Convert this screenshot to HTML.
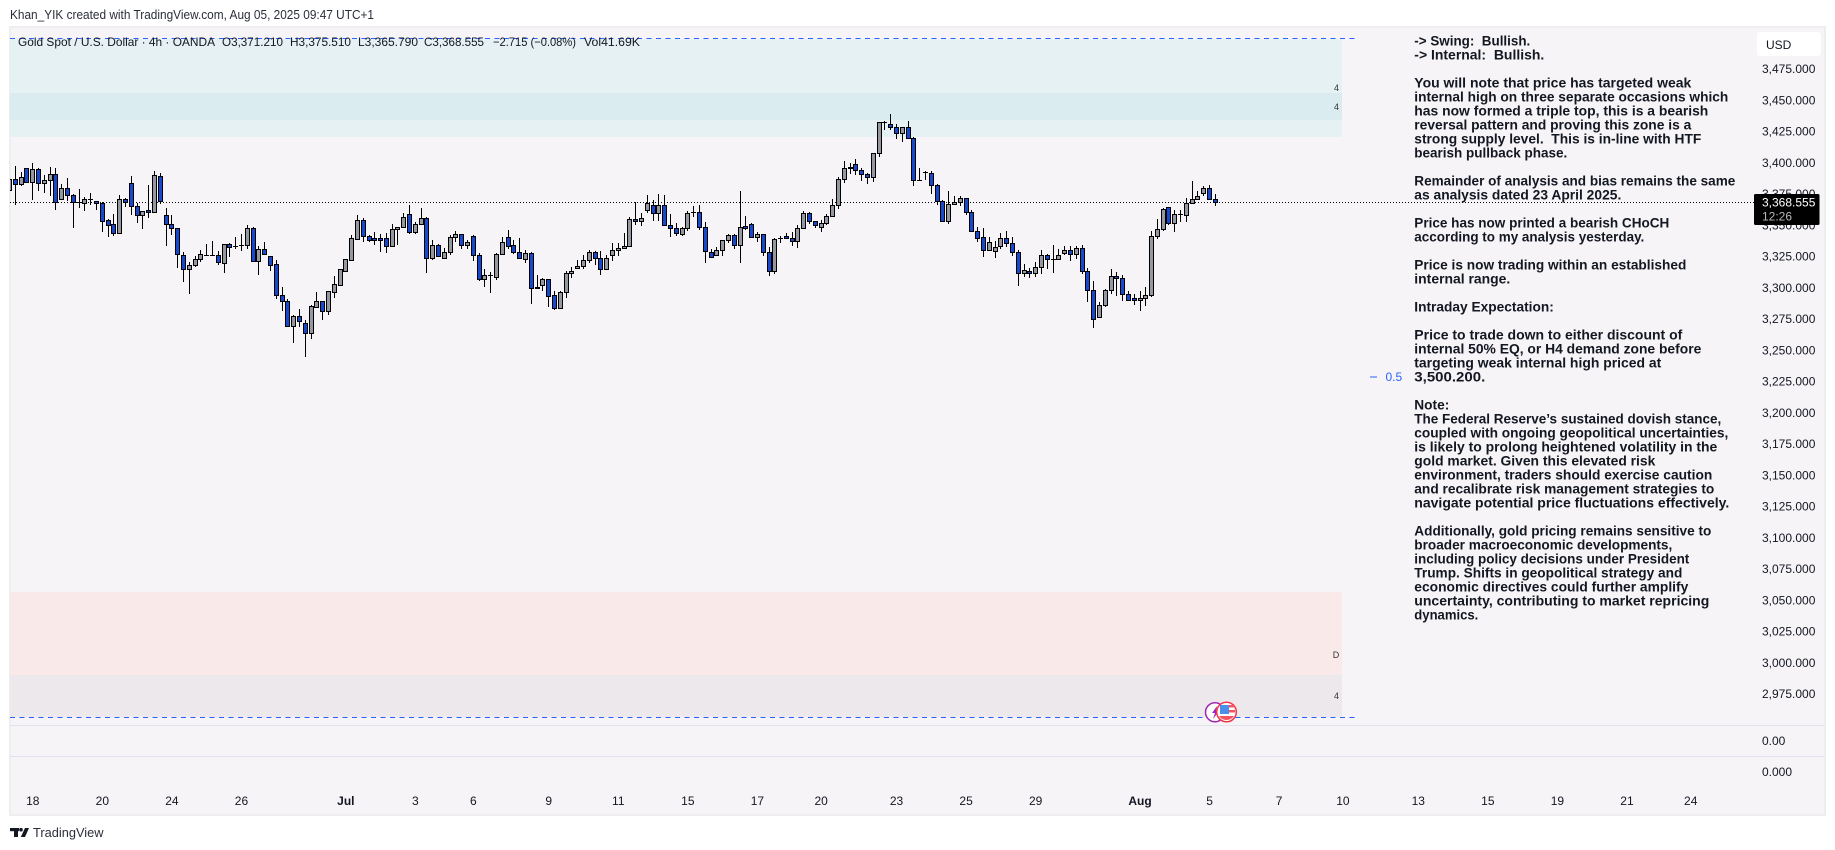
<!DOCTYPE html>
<html lang="en">
<head>
<meta charset="utf-8">
<title>Gold Spot / U.S. Dollar 4h chart</title>
<style>
html,body{margin:0;padding:0;background:#fff;width:1835px;height:850px;overflow:hidden}
svg{display:block;font-family:"Liberation Sans",Arial,sans-serif}
.note{font-size:14px;font-weight:bold;fill:#131722}
.axis{font-size:12px;fill:#131722}
.legend{font-size:12px;fill:#131722}
</style>
</head>
<body>
<svg id="chart" xmlns="http://www.w3.org/2000/svg" width="1835" height="850" viewBox="0 0 1835 850">
  <rect x="0" y="0" width="1835" height="850" fill="#ffffff"/>
  <text x="10" y="19" font-size="12.5" fill="#2a2e39" textLength="364" lengthAdjust="spacingAndGlyphs">Khan_YIK created with TradingView.com, Aug 05, 2025 09:47 UTC+1</text>
  <rect x="10" y="27" width="1815" height="788" fill="#f6f4f6" stroke="#eeeef0" stroke-width="2"/>
  <g id="zones"></g>
  <line x1="10" y1="725.5" x2="1825" y2="725.5" stroke="#e2e2ec" stroke-width="1"/>
  <line x1="10" y1="756.5" x2="1825" y2="756.5" stroke="#e0e3ee" stroke-width="1"/>
  <g id="levels"></g>
  <g id="candles" clip-path="url(#plotClip)"></g>
  <defs><clipPath id="plotClip"><rect x="10" y="27" width="1740" height="690"/></clipPath></defs>

  <g font-size="9" fill="#333" text-anchor="middle">
    <text x="1336.5" y="91">4</text>
    <text x="1336.5" y="110">4</text>
    <text x="1336" y="658">D</text>
    <text x="1336.5" y="699">4</text>
  </g>

  <g>
    <line x1="1370" y1="377" x2="1377" y2="377" stroke="#2962ff" stroke-width="1"/>
    <text x="1385.5" y="381" font-size="12" fill="#2962ff">0.5</text>
  </g>

  <g class="note">
    <text class="note" x="1414.3" y="45.7" textLength="116" lengthAdjust="spacingAndGlyphs" xml:space="preserve">-&gt; Swing:  Bullish.</text>
    <text class="note" x="1414.3" y="59.7" textLength="130" lengthAdjust="spacingAndGlyphs" xml:space="preserve">-&gt; Internal:  Bullish.</text>
    <text class="note" x="1414.3" y="87.7" textLength="277" lengthAdjust="spacingAndGlyphs">You will note that price has targeted weak</text>
    <text class="note" x="1414.3" y="101.7" textLength="314" lengthAdjust="spacingAndGlyphs">internal high on three separate occasions which</text>
    <text class="note" x="1414.3" y="115.7" textLength="294" lengthAdjust="spacingAndGlyphs">has now formed a triple top, this is a bearish</text>
    <text class="note" x="1414.3" y="129.7" textLength="277" lengthAdjust="spacingAndGlyphs">reversal pattern and proving this zone is a</text>
    <text class="note" x="1414.3" y="143.7" textLength="287" lengthAdjust="spacingAndGlyphs" xml:space="preserve">strong supply level.  This is in-line with HTF</text>
    <text class="note" x="1414.3" y="157.7" textLength="153" lengthAdjust="spacingAndGlyphs">bearish pullback phase.</text>
    <text class="note" x="1414.3" y="185.7" textLength="321" lengthAdjust="spacingAndGlyphs">Remainder of analysis and bias remains the same</text>
    <text class="note" x="1414.3" y="199.7" textLength="207" lengthAdjust="spacingAndGlyphs">as analysis dated 23 April 2025.</text>
    <text class="note" x="1414.3" y="227.7" textLength="255" lengthAdjust="spacingAndGlyphs">Price has now printed a bearish CHoCH</text>
    <text class="note" x="1414.3" y="241.7" textLength="230" lengthAdjust="spacingAndGlyphs">according to my analysis yesterday.</text>
    <text class="note" x="1414.3" y="269.7" textLength="272" lengthAdjust="spacingAndGlyphs">Price is now trading within an established</text>
    <text class="note" x="1414.3" y="283.7" textLength="96" lengthAdjust="spacingAndGlyphs">internal range.</text>
    <text class="note" x="1414.3" y="311.7" textLength="139.5" lengthAdjust="spacingAndGlyphs">Intraday Expectation:</text>
    <text class="note" x="1414.3" y="339.7" textLength="268" lengthAdjust="spacingAndGlyphs">Price to trade down to either discount of</text>
    <text class="note" x="1414.3" y="353.7" textLength="287" lengthAdjust="spacingAndGlyphs">internal 50% EQ, or H4 demand zone before</text>
    <text class="note" x="1414.3" y="367.7" textLength="247" lengthAdjust="spacingAndGlyphs">targeting weak internal high priced at</text>
    <text class="note" x="1414.3" y="381.7" textLength="71" lengthAdjust="spacingAndGlyphs">3,500.200.</text>
    <text class="note" x="1414.3" y="409.7" textLength="35" lengthAdjust="spacingAndGlyphs">Note:</text>
    <text class="note" x="1414.3" y="423.7" textLength="307" lengthAdjust="spacingAndGlyphs">The Federal Reserve’s sustained dovish stance,</text>
    <text class="note" x="1414.3" y="437.7" textLength="314" lengthAdjust="spacingAndGlyphs">coupled with ongoing geopolitical uncertainties,</text>
    <text class="note" x="1414.3" y="451.7" textLength="303" lengthAdjust="spacingAndGlyphs">is likely to prolong heightened volatility in the</text>
    <text class="note" x="1414.3" y="465.7" textLength="241" lengthAdjust="spacingAndGlyphs">gold market. Given this elevated risk</text>
    <text class="note" x="1414.3" y="479.7" textLength="298" lengthAdjust="spacingAndGlyphs">environment, traders should exercise caution</text>
    <text class="note" x="1414.3" y="493.7" textLength="300" lengthAdjust="spacingAndGlyphs">and recalibrate risk management strategies to</text>
    <text class="note" x="1414.3" y="507.7" textLength="315" lengthAdjust="spacingAndGlyphs">navigate potential price fluctuations effectively.</text>
    <text class="note" x="1414.3" y="535.7" textLength="297" lengthAdjust="spacingAndGlyphs">Additionally, gold pricing remains sensitive to</text>
    <text class="note" x="1414.3" y="549.7" textLength="258" lengthAdjust="spacingAndGlyphs">broader macroeconomic developments,</text>
    <text class="note" x="1414.3" y="563.7" textLength="275" lengthAdjust="spacingAndGlyphs">including policy decisions under President</text>
    <text class="note" x="1414.3" y="577.7" textLength="268" lengthAdjust="spacingAndGlyphs">Trump. Shifts in geopolitical strategy and</text>
    <text class="note" x="1414.3" y="591.7" textLength="274" lengthAdjust="spacingAndGlyphs">economic directives could further amplify</text>
    <text class="note" x="1414.3" y="605.7" textLength="295" lengthAdjust="spacingAndGlyphs">uncertainty, contributing to market repricing</text>
    <text class="note" x="1414.3" y="619.7" textLength="64" lengthAdjust="spacingAndGlyphs">dynamics.</text>
  </g>

  <g id="priceAxis"></g>
  <g id="timeAxis"></g>

  <text class="axis" x="1762" y="745">0.00</text>
  <text class="axis" x="1762" y="776">0.000</text>

  <g>
    <rect x="1757" y="32" width="64" height="24" rx="3" fill="#ffffff"/>
    <text class="axis" x="1766" y="49">USD</text>
  </g>

  <g>
    <rect x="1754" y="194" width="65.5" height="31" rx="1.5" fill="#000000"/>
    <text x="1762" y="206.5" font-size="12" fill="#ffffff">3,368.555</text>
    <text x="1762" y="220.5" font-size="12" fill="#b8b8b8">12:26</text>
  </g>

  <g>
    <text class="legend" x="18" y="46" textLength="197" lengthAdjust="spacingAndGlyphs">Gold Spot / U.S. Dollar · 4h · OANDA</text>
    <text class="legend" x="222" y="46" textLength="61" lengthAdjust="spacingAndGlyphs">O3,371.210</text>
    <text class="legend" x="290" y="46" textLength="61" lengthAdjust="spacingAndGlyphs">H3,375.510</text>
    <text class="legend" x="358" y="46" textLength="60" lengthAdjust="spacingAndGlyphs">L3,365.790</text>
    <text class="legend" x="424" y="46" textLength="60" lengthAdjust="spacingAndGlyphs">C3,368.555</text>
    <text class="legend" x="493" y="46" textLength="83" lengthAdjust="spacingAndGlyphs">−2.715 (−0.08%)</text>
    <text class="legend" x="584" y="46" textLength="56" lengthAdjust="spacingAndGlyphs">Vol41.69K</text>
  </g>

  <g>
    <circle cx="1215" cy="712.3" r="9.5" fill="#ffffff" stroke="#9c27b0" stroke-width="1.5"/>
    <polygon points="1217,706 1212,713 1215,713 1213,719 1219,711 1216,711" fill="#9c27b0"/>
  </g>
  <g>
    <circle cx="1226.5" cy="712" r="9.8" fill="#ffffff" stroke="#f23645" stroke-width="1.5"/>
    <rect x="1228" y="705" width="7" height="2.5" fill="#f7525f"/>
    <rect x="1228" y="710" width="7" height="2.5" fill="#f7525f"/>
    <rect x="1220" y="705" width="9" height="9" fill="#4a90e8"/>
    <path d="M1219 716 H1234 A9 9 0 0 1 1219 716 Z" fill="#f7525f"/>
  </g>

  <g>
    <rect x="10" y="828" width="9" height="3.2" fill="#131722"/>
    <rect x="14" y="828" width="4" height="9" fill="#131722"/>
    <circle cx="21" cy="829.7" r="1.8" fill="#131722"/>
    <polygon points="25,828 29,828 25,837 20.8,837" fill="#131722"/>
    <text x="33" y="837" font-size="13" fill="#2a2e39" textLength="70.5" lengthAdjust="spacingAndGlyphs">TradingView</text>
  </g>
</svg>

<script>
// Candle values (USD), one entry per 4h bar.
var opens = [
3378.4,
3386.9,3382.9,3395.7,3385.1,3394.9,3383.7,3386.1,3390.9,3370.9,3379.7,
3374.1,3368.5,3367.7,3370.9,3369.3,3367.7,3354.1,3350.9,3344.3,3371.5,
3383.7,3365.3,3358.1,3362.1,3360.5,3389.3,3358.1,3350.9,3348.3,3326.7,
3314.9,3318.1,3322.9,3326.7,3326.7,3326.7,3320.3,3334.9,3333.9,3334.1,
3334.1,3347.7,3321.9,3330.9,3325.3,3318.9,3294.1,3289.3,3269.9,3277.3,
3271.7,3264.3,3285.1,3289.3,3281.9,3297.1,3302.7,3313.9,3322.7,3339.5,
3354.1,3341.3,3339.7,3339.7,3339.7,3333.3,3346.9,3348.5,3358.9,3344.5,
3350.9,3355.7,3324.3,3334.1,3323.7,3328.5,3340.5,3342.9,3334.1,3341.3,
3326.1,3307.5,3310.1,3309.1,3327.5,3340.5,3334.1,3329.1,3323.5,3327.7,
3301.1,3302.7,3306.9,3294.1,3284.3,3296.5,3311.7,3315.7,3317.3,3322.1,
3328.5,3323.7,3314.9,3326.1,3330.1,3331.7,3333.3,3354.9,3353.3,3362.1,
3366.7,3359.7,3366.1,3350.1,3347.7,3342.9,3347.7,3360.5,3360.5,3348.5,
3329.1,3326.1,3330.1,3338.1,3342.1,3334.1,3349.3,3350.9,3340.5,3342.9,
3328.5,3313.3,3339.7,3341.3,3339.7,3337.3,3347.7,3359.7,3353.3,3348.5,
3351.7,3357.3,3366.1,3386.9,3396.5,3398.9,3394.1,3390.9,3388.5,3407.7,
3432.5,3430.9,3428.5,3423.7,3428.5,3419.7,3386.7,3392.5,3391.7,3382.1,
3369.3,3353.3,3366.9,3368.5,3371.7,3360.5,3345.3,3340.5,3330.1,3329.3,
3333.3,3339.7,3335.7,3328.5,3311.7,3313.3,3311.7,3316.5,3326.1,3322.9,
3322.9,3327.7,3330.1,3326.9,3331.7,3313.3,3298.1,3277.0,3286.1,3298.1,
3309.3,3307.7,3294.9,3291.7,3290.1,3291.7,3294.1,3341.3,3346.9,3364.5,
3351.7,3358.9,3358.1,3367.7,3370.9,3375.7,3379.7,3371.21
];
var highs = [
3390.4,
3397.6,3392.8,3395.7,3399.7,3395.7,3390.4,3396.5,3395.7,3383.2,3387.7,
3375.2,3379.2,3372.5,3376.3,3369.9,3368.5,3354.9,3359.2,3374.1,3372.3,
3389.6,3367.7,3361.9,3382.4,3393.6,3392.0,3363.7,3358.4,3348.3,3328.5,
3320.5,3325.6,3330.4,3335.2,3337.9,3329.3,3334.9,3335.7,3340.5,3343.2,
3350.1,3348.8,3333.6,3336.8,3325.3,3322.4,3300.8,3290.9,3278.4,3282.9,
3274.4,3286.4,3296.8,3289.3,3297.3,3309.6,3314.9,3322.9,3342.1,3358.1,
3355.7,3342.4,3344.8,3343.2,3344.0,3350.9,3349.1,3359.7,3366.4,3352.5,
3364.0,3356.5,3338.1,3334.9,3331.7,3342.1,3345.6,3343.2,3338.1,3342.1,
3327.7,3315.2,3312.5,3327.7,3340.5,3346.4,3338.4,3340.0,3330.1,3328.5,
3310.1,3307.7,3306.9,3297.3,3297.3,3313.3,3316.5,3322.4,3326.4,3330.1,
3329.3,3329.6,3326.4,3335.7,3335.7,3343.7,3357.1,3368.5,3359.7,3374.1,
3370.1,3374.9,3374.1,3358.9,3351.7,3348.5,3361.3,3365.3,3366.1,3352.5,
3331.5,3332.5,3338.1,3342.9,3342.9,3377.3,3357.3,3351.7,3345.1,3342.9,
3332.5,3339.7,3341.3,3343.7,3344.5,3350.1,3361.3,3360.5,3353.3,3354.1,
3358.9,3371.2,3388.5,3401.6,3400.0,3402.9,3395.7,3391.7,3407.7,3432.5,
3433.9,3439.2,3431.2,3428.5,3433.6,3420.5,3395.7,3393.3,3393.3,3382.9,
3370.1,3377.3,3373.3,3373.3,3371.7,3362.1,3348.5,3347.7,3340.5,3337.3,
3343.7,3345.3,3340.5,3330.1,3319.2,3315.7,3320.5,3330.1,3327.5,3334.1,
3330.9,3333.6,3333.3,3333.3,3334.1,3315.7,3305.3,3288.5,3298.9,3314.9,
3312.5,3310.1,3297.9,3294.9,3297.3,3300.5,3345.3,3354.9,3363.7,3364.5,
3362.1,3362.1,3371.7,3385.6,3377.3,3381.3,3382.1,3375.51
];
var lows = [
3377.1,
3366.4,3381.6,3383.7,3370.4,3377.6,3375.7,3373.6,3362.4,3370.4,3369.9,
3348.0,3364.0,3361.9,3366.4,3362.4,3345.1,3341.1,3341.6,3343.2,3365.1,
3358.4,3352.3,3347.2,3356.3,3360.3,3367.2,3333.9,3342.4,3316.0,3305.1,
3295.2,3316.5,3321.1,3325.6,3326.1,3318.7,3312.3,3325.1,3331.2,3329.9,
3331.2,3321.9,3310.4,3327.2,3313.9,3291.5,3281.9,3269.9,3256.0,3268.8,
3244.8,3259.2,3285.1,3274.4,3278.4,3292.0,3302.7,3313.9,3322.7,3338.7,
3336.8,3337.1,3334.4,3328.8,3328.0,3333.1,3334.4,3347.7,3343.5,3342.9,
3350.4,3312.0,3322.4,3325.9,3323.5,3326.7,3337.1,3331.2,3331.5,3321.9,
3305.9,3300.8,3296.0,3306.4,3327.5,3331.2,3327.2,3323.4,3320.0,3287.2,
3299.5,3297.6,3284.8,3282.7,3283.4,3292.0,3308.0,3315.5,3315.5,3320.3,
3318.4,3310.4,3314.9,3321.6,3325.6,3331.7,3333.1,3350.7,3349.6,3360.0,
3353.9,3353.9,3349.6,3340.8,3341.9,3341.9,3345.9,3356.8,3346.7,3320.3,
3324.3,3325.9,3325.6,3336.3,3331.5,3320.3,3346.7,3340.3,3337.1,3325.9,
3309.9,3311.5,3336.3,3338.9,3333.9,3332.3,3347.7,3351.5,3348.3,3345.1,
3350.7,3357.1,3363.5,3384.3,3391.2,3390.7,3385.9,3383.5,3385.1,3405.1,
3426.4,3426.4,3419.2,3416.8,3419.2,3381.6,3385.9,3386.4,3375.2,3366.4,
3353.1,3351.5,3366.7,3365.6,3358.4,3345.1,3337.1,3325.1,3329.9,3324.3,
3330.9,3333.1,3325.9,3301.9,3309.1,3308.3,3309.1,3311.5,3315.2,3312.3,
3322.9,3326.7,3321.9,3323.4,3311.5,3289.1,3268.3,3276.2,3285.0,3295.4,
3293.9,3289.9,3289.9,3286.7,3281.9,3285.9,3293.1,3339.5,3345.9,3350.7,
3345.1,3352.5,3353.1,3367.5,3370.4,3373.9,3370.9,3365.79
];
var closes = [
3386.9,
3382.9,3388.5,3385.1,3394.9,3383.7,3386.1,3390.9,3369.1,3379.7,3374.1,
3368.5,3368.5,3370.9,3370.9,3367.7,3353.9,3350.7,3344.3,3370.9,3368.5,
3365.3,3358.1,3361.9,3360.5,3390.1,3369.3,3350.9,3348.3,3326.9,3314.9,
3318.1,3322.9,3326.9,3326.7,3326.7,3320.5,3334.9,3332.5,3333.9,3334.1,
3347.7,3321.9,3330.9,3327.5,3318.7,3294.1,3289.3,3269.9,3277.3,3273.9,
3264.3,3285.3,3289.3,3281.9,3297.3,3302.9,3314.9,3322.9,3339.7,3354.1,
3341.3,3338.1,3338.7,3338.7,3333.3,3346.9,3348.5,3356.5,3344.5,3350.9,
3355.7,3324.3,3334.1,3325.9,3328.5,3340.5,3342.9,3334.1,3336.5,3326.1,
3307.5,3310.1,3310.1,3326.9,3336.5,3333.9,3329.1,3323.7,3327.7,3300.3,
3300.3,3306.9,3293.9,3284.3,3296.5,3311.7,3313.3,3317.3,3322.1,3328.5,
3323.7,3314.9,3323.7,3330.1,3331.7,3333.3,3354.9,3353.3,3355.7,3367.7,
3359.7,3366.1,3350.1,3347.7,3343.7,3347.7,3359.7,3360.5,3348.5,3329.3,
3324.5,3330.1,3338.1,3342.1,3334.1,3349.1,3347.7,3340.5,3342.9,3328.5,
3313.3,3338.9,3339.7,3339.7,3337.3,3347.7,3359.7,3353.3,3350.1,3351.7,
3357.3,3366.1,3386.9,3395.7,3395.7,3394.1,3390.9,3388.5,3407.7,3432.5,
3432.5,3428.5,3423.7,3428.5,3419.7,3386.7,3386.7,3392.5,3382.1,3369.3,
3353.3,3366.9,3368.5,3371.7,3360.5,3345.3,3340.3,3330.1,3336.5,3333.1,
3339.7,3335.7,3328.5,3311.7,3314.1,3311.7,3316.5,3326.1,3322.9,3322.9,
3326.1,3330.1,3326.9,3331.7,3313.3,3298.1,3274.9,3286.1,3298.1,3309.3,
3307.7,3294.9,3290.1,3290.1,3291.7,3294.1,3341.3,3346.9,3362.9,3351.7,
3358.9,3358.9,3367.7,3370.9,3373.3,3379.7,3370.9,3368.555
];

// Axis values and labels.
var priceTicks = [3475,3450,3425,3400,3375,3350,3325,3300,3275,3250,3225,3200,3175,3150,3125,3100,3075,3050,3025,3000,2975];
var dateLabels = ["18","20","24","26","Jul","3","6","9","11","15","17","20","23","25","29","Aug","5","7","10","13","15","19","21","24"];
var dateBars = [4,16,28,40,58,70,80,93,105,117,129,140,153,165,177,195,207,219,230,243,255,267,279,290];
var monthLabels = ["Jul","Aug"];

// Zone price bounds.
var zoneNames = ["supply-zone","supply-inner-zone","daily-demand-zone","h4-demand-zone"];
var zoneTops = [3499.2,3456.0,3056.8,2990.4];
var zoneBottoms = [3420.8,3434.4,2990.4,2956.8];
var zoneColors = ["#e6f1f3","#daecf0","#f9e9e9","#ece8ec"];

// Range boundary levels.
var rangeHigh = 3499.8;
var rangeLow = 2956.6;
var lastClose = 3368.555;

var SVGNS = "http://www.w3.org/2000/svg";
function yScale(price) { return 69.24 + (3475 - price) * 1.25; }
function xScale(bar) { return 9.6 + bar * 5.797; }
function make(tag, parent, attrs) {
  var el = document.createElementNS(SVGNS, tag);
  for (var k in attrs) el.setAttribute(k, attrs[k]);
  parent.appendChild(el);
  return el;
}
function fmtPrice(p) {
  var s = p.toFixed(3), i = s.indexOf("."), whole = s.slice(0, i);
  return whole.slice(0, whole.length - 3) + "," + whole.slice(-3) + s.slice(i);
}

var zonesLayer = document.getElementById("zones");
zoneNames.forEach(function (name, i) {
  var top = yScale(zoneTops[i]), bottom = yScale(zoneBottoms[i]);
  var z = make("rect", zonesLayer, {x: 10, y: top, width: 1332, height: bottom - top, fill: zoneColors[i]});
  
  
});

var levelsLayer = document.getElementById("levels");
var topLine = make("line", levelsLayer, {x1: 10, x2: 1357, y1: Math.floor(yScale(rangeHigh)) + 0.5, y2: Math.floor(yScale(rangeHigh)) + 0.5, stroke: "#2962ff", "stroke-width": 1, "stroke-dasharray": "5 4.5"});


var bottomLine = make("line", levelsLayer, {x1: 10, x2: 1357, y1: Math.floor(yScale(rangeLow)) + 0.5, y2: Math.floor(yScale(rangeLow)) + 0.5, stroke: "#2962ff", "stroke-width": 1, "stroke-dasharray": "5 4.5"});


var priceLine = make("line", levelsLayer, {x1: 10, x2: 1754, y1: Math.floor(yScale(lastClose)) + 0.5, y2: Math.floor(yScale(lastClose)) + 0.5, stroke: "#000000", "stroke-width": 1, "stroke-dasharray": "1 2"});



var candlesLayer = document.getElementById("candles");
opens.forEach(function (o, i) {
  var c = closes[i];
  var col = Math.floor(xScale(i));
  var g = make("g", candlesLayer, {});
  
  
  var wick = make("line", g, {x1: col + 0.5, x2: col + 0.5, y1: Math.round(yScale(highs[i])), y2: Math.round(yScale(lows[i])), stroke: "#000000", "stroke-width": 1});
  
  
  var yTop = Math.round(yScale(Math.max(o, c)));
  var yBot = Math.round(yScale(Math.min(o, c)));
  if (o === c) {
    var flat = make("line", g, {x1: col - 2, x2: col + 3, y1: yTop + 0.5, y2: yTop + 0.5, stroke: "#000000", "stroke-width": 1});
    
    
  } else {
    var body = make("rect", g, {x: col - 1.5, y: yTop + 0.5, width: 4, height: Math.max(yBot - yTop, 1), fill: c > o ? "#9598a1" : "#1848cc", stroke: "#000000", "stroke-width": 1});
    
    
  }
});

var priceAxis = document.getElementById("priceAxis");
priceTicks.forEach(function (p) {
  var t = make("text", priceAxis, {x: 1762, y: yScale(p) + 3.9, "class": "axis"});
  t.textContent = fmtPrice(p);
  
  
});

var timeAxis = document.getElementById("timeAxis");
dateLabels.forEach(function (label, i) {
  var isMonth = monthLabels.indexOf(label) >= 0;
  var t = make("text", timeAxis, {x: xScale(dateBars[i]), y: 805, "text-anchor": "middle", "class": "axis", "font-weight": isMonth ? "bold" : "normal"});
  t.textContent = label;
  
  
});
</script>
</body>
</html>
